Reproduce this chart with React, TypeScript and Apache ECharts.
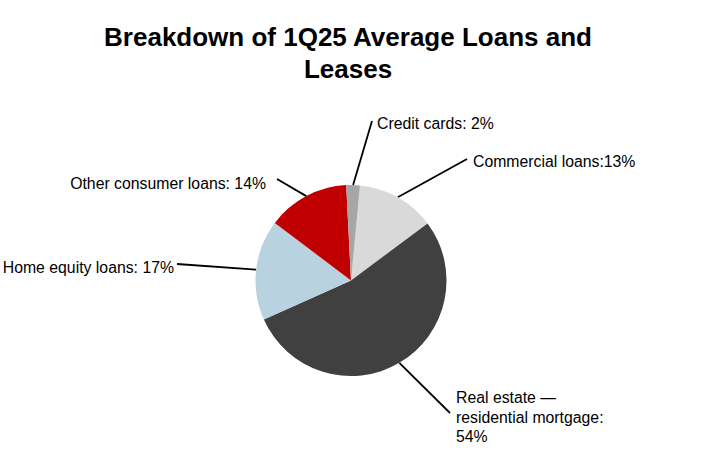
import React, { useEffect, useRef } from 'react'
import * as echarts from 'echarts'

// slice order, clockwise from just right of 12 o'clock
const categories = ['Commercial loans', 'Real estate — residential mortgage', 'Home equity loans', 'Other consumer loans', 'Credit cards']
const shares = [13.3, 53.5, 17.0, 13.9, 2.3]
const labelTexts = [
  'Commercial loans:13%',
  'Real estate —\nresidential mortgage:\n54%',
  'Home equity loans: 17%',
  'Other consumer loans: 14%',
  'Credit cards: 2%'
]
const colors = ['#d9d9d9', '#404040', '#b9d2e0', '#c00000', '#a6a6a6']

// where each label sits and where its leader line ends
const labelSpots = [
  { x: 473, y: 161, align: 'left', verticalAlign: 'middle', end: [467, 159] },
  { x: 456, y: 388, align: 'left', verticalAlign: 'top', end: [450, 413] },
  { x: 174, y: 267, align: 'right', verticalAlign: 'middle', end: [177, 264] },
  { x: 266, y: 183, align: 'right', verticalAlign: 'middle', end: [277, 179] },
  { x: 377, y: 123, align: 'left', verticalAlign: 'middle', end: [372, 121] }
]

const App: React.FC = () => {
  const chartRef = useRef<HTMLDivElement>(null)

  useEffect(() => {
    if (!chartRef.current) return
    const chart = echarts.init(chartRef.current, undefined, { renderer: 'svg' })

    const option = {
      animation: false,
      title: {
        text: 'Breakdown of 1Q25 Average Loans and\nLeases',
        left: 343,
        top: 16,
        textAlign: 'center',
        textStyle: {
          fontFamily: 'Liberation Sans',
          fontSize: 26,
          fontWeight: 'bold',
          color: '#000',
          lineHeight: 32
        }
      },
      series: [
        {
          type: 'pie',
          center: [351, 280.5],
          radius: 95.5,
          startAngle: 84.6,
          clockwise: true,
          avoidLabelOverlap: false,
          emphasis: { disabled: true },
          itemStyle: { borderWidth: 0 },
          label: {
            show: true,
            position: 'outside',
            fontFamily: 'Liberation Sans',
            fontSize: 15.8,
            lineHeight: 19.5,
            color: '#000',
            formatter: (p: any) => labelTexts[p.dataIndex]
          },
          labelLine: {
            show: true,
            length: 20,
            length2: 10,
            lineStyle: { color: '#000', width: 1.8 }
          },
          labelLayout: (params: any) => {
            const spot = labelSpots[params.dataIndex]
            const start = params.labelLinePoints ? params.labelLinePoints[0] : spot.end
            return {
              x: spot.x,
              y: spot.y,
              align: spot.align,
              verticalAlign: spot.verticalAlign,
              hideOverlap: false,
              labelLinePoints: [start, spot.end]
            }
          },
          data: categories.map((name, i) => ({
            name,
            value: shares[i],
            itemStyle: { color: colors[i] }
          }))
        }
      ]
    }

    chart.setOption(option)
    return () => {
      chart.dispose()
    }
  }, [])

  return (
    <div
      ref={chartRef}
      style={{ position: 'absolute', left: 0, top: 0, width: 702, height: 466, background: '#fff' }}
    />
  )
}

export default App
